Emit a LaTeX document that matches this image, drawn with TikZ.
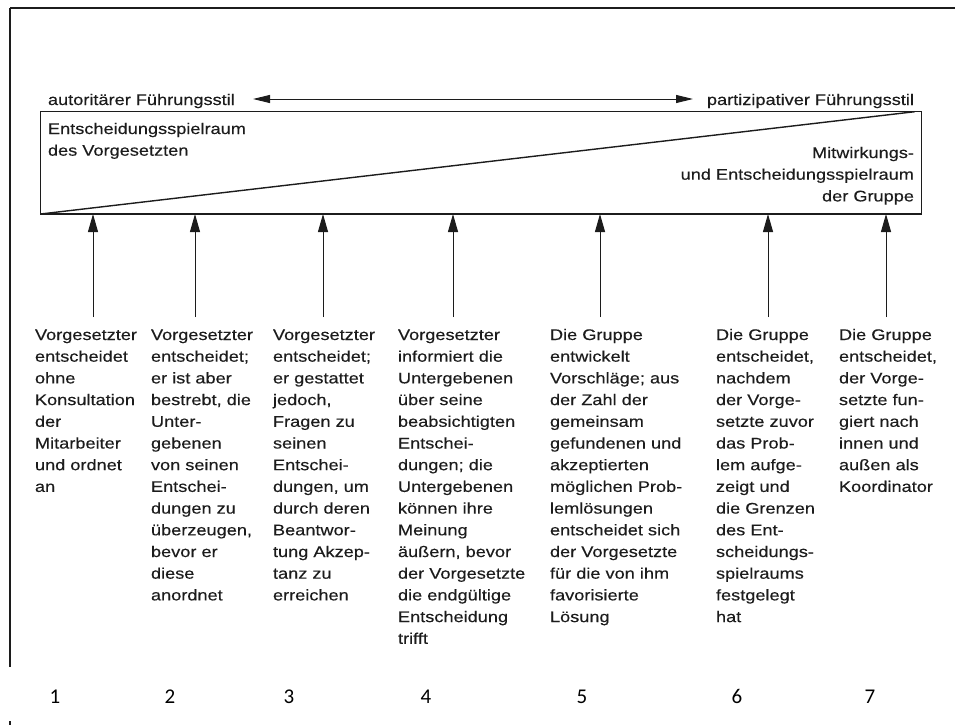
\documentclass[tikz,border=0pt]{standalone}
\usepackage{fontspec}
\setmainfont{Liberation Sans}[FakeStretch=1.18, FakeBold=0.3]
\newfontfamily\numfont{Carlito}
\usetikzlibrary{arrows.meta}

\definecolor{ink}{HTML}{1C1C1C}

% left- and right-aligned blocks whose baseline is their first line
\newcommand{\lblock}[1]{\begin{tabular}[t]{@{}l@{}}#1\end{tabular}}
\newcommand{\rblock}[1]{\begin{tabular}[t]{@{}r@{}}#1\end{tabular}}

\begin{document}
\begin{tikzpicture}[x=1pt,y=-1pt,
  every node/.style={inner sep=0pt, outer sep=0pt, text=ink,
    font=\fontsize{15.4}{21.7}\selectfont},
  frameline/.style={draw=ink, line width=1.4pt},
  upArrow/.style={draw=ink, line width=1pt, -{Triangle[length=18pt,width=10pt]}},
  scaleArrow/.style={draw=ink, line width=1pt,
    {Triangle[length=17pt,width=8pt]}-{Triangle[length=17pt,width=8pt]}},
  numlabel/.style={anchor=base, font=\numfont\fontsize{21}{24}\selectfont, text=black}]

\useasboundingbox (0,0) rectangle (955,725);

% outer frame (top and left edges only)
\draw[frameline, line width=1.6pt] (10,8) -- (955,8);
\draw[frameline, line width=1.6pt] (10,8) -- (10,667);
\draw[frameline, line width=1.2pt] (10,721) -- (10,725);

% scale of leadership styles
\node[anchor=base west] (auto) at (48,105) {autoritärer Führungsstil};
\node[anchor=base east] (part) at (914,105) {partizipativer Führungsstil};
\coordinate (lt) at (253,99);
\coordinate (rt) at (693,99);
\draw[scaleArrow] (lt) -- (rt);

% box with the dividing diagonal
\node[frameline, minimum width=881pt, minimum height=102.3pt] (box) at (481.2,162.85) {};
\coordinate (apex) at ([xshift=-7pt]box.north east);
\draw[frameline] (box.south west) -- (apex);

\node[anchor=base west] (boss) at (48,134)
  {\lblock{Entscheidungsspielraum\\des Vorgesetzten}};
\node[anchor=base east] (group) at (914,158)
  {\rblock{Mitwirkungs-\\und Entscheidungsspielraum\\der Gruppe}};

% arrows pointing up to the box
\foreach \i/\x in {1/93, 2/195, 3/323, 4/453, 5/600, 6/768, 7/886} {
  \coordinate (a\i) at (\x,317);
  \draw[upArrow] (a\i) -- (a\i |- box.south);
}

% descriptions of the seven styles
\node[anchor=base west] (c1) at (35,340) {\lblock{Vorgesetzter\\entscheidet\\ohne\\Konsultation\\der\\Mitarbeiter\\und ordnet\\an}};
\node[anchor=base west] (c2) at (151,340) {\lblock{Vorgesetzter\\entscheidet;\\er ist aber\\bestrebt, die\\Unter-\\gebenen\\von seinen\\Entschei-\\dungen zu\\überzeugen,\\bevor er\\diese\\anordnet}};
\node[anchor=base west] (c3) at (273,340) {\lblock{Vorgesetzter\\entscheidet;\\er gestattet\\jedoch,\\Fragen zu\\seinen\\Entschei-\\dungen, um\\durch deren\\Beantwor-\\tung Akzep-\\tanz zu\\erreichen}};
\node[anchor=base west] (c4) at (398,340) {\lblock{Vorgesetzter\\informiert die\\Untergebenen\\über seine\\beabsichtigten\\Entschei-\\dungen; die\\Untergebenen\\können ihre\\Meinung\\äußern, bevor\\der Vorgesetzte\\die endgültige\\Entscheidung\\trifft}};
\node[anchor=base west] (c5) at (550,340) {\lblock{Die Gruppe\\entwickelt\\Vorschläge; aus\\der Zahl der\\gemeinsam\\gefundenen und\\akzeptierten\\möglichen Prob-\\lemlösungen\\entscheidet sich\\der Vorgesetzte\\für die von ihm\\favorisierte\\Lösung}};
\node[anchor=base west] (c6) at (716,340) {\lblock{Die Gruppe\\entscheidet,\\nachdem\\der Vorge-\\setzte zuvor\\das Prob-\\lem aufge-\\zeigt und\\die Grenzen\\des Ent-\\scheidungs-\\spielraums\\festgelegt\\hat}};
\node[anchor=base west] (c7) at (839,340) {\lblock{Die Gruppe\\entscheidet,\\der Vorge-\\setzte fun-\\giert nach\\innen und\\außen als\\Koordinator}};

% numbering
\foreach \i/\x in {1/55, 2/170, 3/289, 4/426, 5/582, 6/737, 7/870}
  \node[numlabel] (n\i) at (\x,703) {\i};

\end{tikzpicture}
\end{document}
